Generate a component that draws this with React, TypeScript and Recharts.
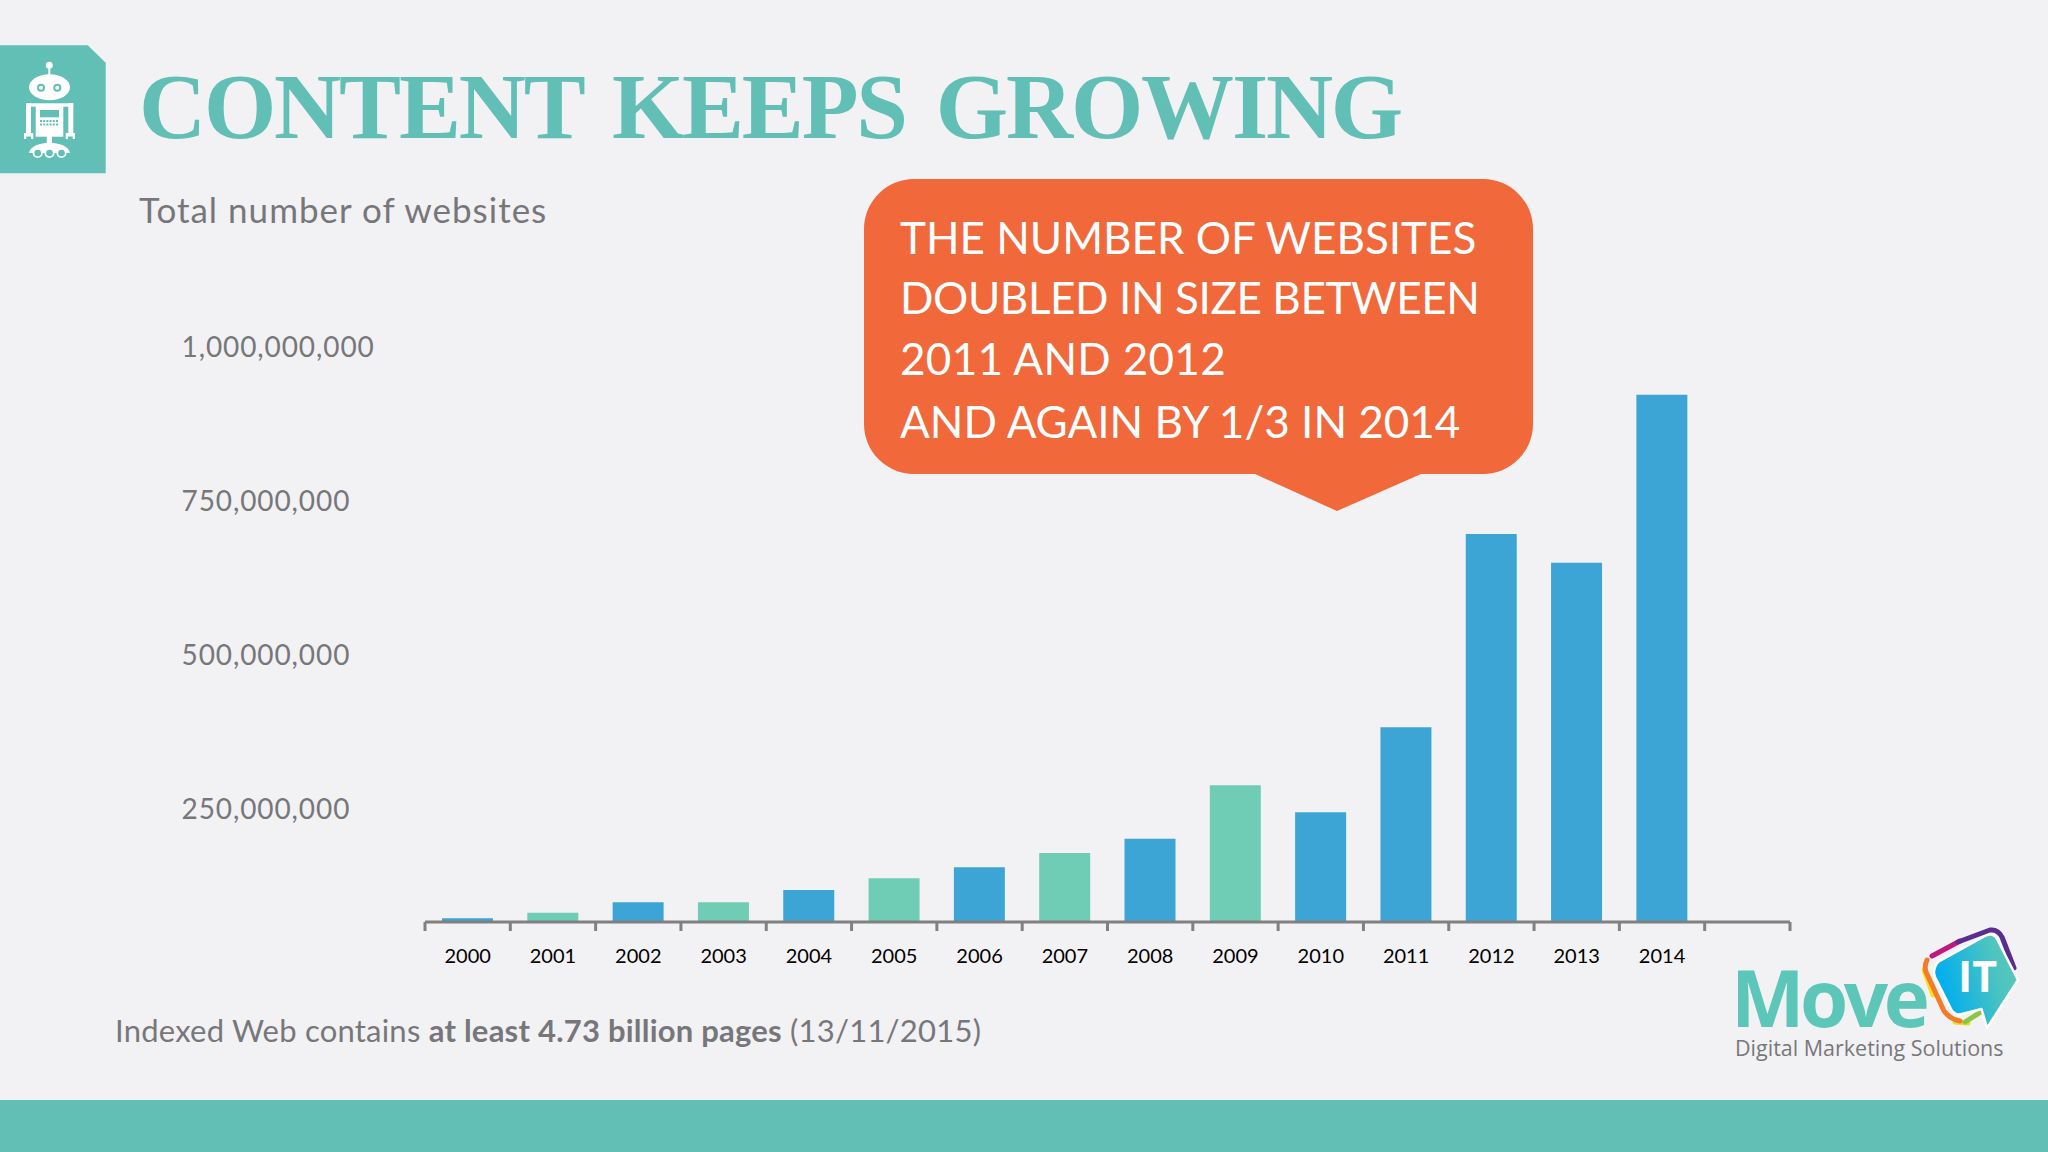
import { BarChart, Bar, Cell, XAxis, YAxis } from 'recharts';

// Values (the axis does not start at zero)
const years = ['2000', '2001', '2002', '2003', '2004', '2005', '2006', '2007', '2008', '2009', '2010', '2011', '2012', '2013', '2014', ''];
const websites = [71, 80, 97, 97, 117, 136, 154, 177, 200, 287, 243, 381, 695, 648, 921, null];
const greenYears = ['2001', '2003', '2005', '2007', '2009'];
const yTicks = [250, 500, 750, 1000];
const yLabels = ['250,000,000', '500,000,000', '750,000,000', '1,000,000,000'];

const chartData = years.map((year, i) => ({ year, websites: websites[i] }));

const TEAL = '#62BFB5';
const BLUE = '#3DA5D5';
const GREEN = '#70CDB5';
const GREY = '#77777B';
const ORANGE = '#F1693B';
const BODY_FONT = 'Lato, "Open Sans", sans-serif';

const PLOT_LEFT = 425;
const PLOT_RIGHT = 1790;
const BAND = (PLOT_RIGHT - PLOT_LEFT) / years.length;

const XTick = ({ x, y, payload, index }: any) => {
  const left = x - BAND / 2;
  return (
    <g>
      <line x1={left} x2={left} y1={y - 8} y2={y + 1} stroke="#808080" strokeWidth={3} />
      {index === years.length - 1 && (
        <line x1={left + BAND} x2={left + BAND} y1={y - 8} y2={y + 1} stroke="#808080" strokeWidth={3} />
      )}
      <text x={x} y={y + 33} textAnchor="middle" fontFamily={BODY_FONT} fontSize={20} fill="#000">
        {payload.value}
      </text>
    </g>
  );
};

const YTick = ({ y, index }: any) => (
  <text x={181.5} y={y + 11} textAnchor="start" fontFamily={BODY_FONT} fontSize={28} letterSpacing={0.9} fill={GREY}>
    {yLabels[index]}
  </text>
);

const Robot = () => (
  <g>
    <polygon points="0,45.3 87.7,45.3 105.7,62.7 105.7,173.3 0,173.3" fill={TEAL} />
    <circle cx={49.3} cy={65.3} r={3.5} fill="#fff" />
    <rect x={48.3} y={65} width={2} height={11} fill="#fff" />
    <ellipse cx={49.5} cy={87.3} rx={20.5} ry={13} fill="#fff" />
    <circle cx={41} cy={87.7} r={3} fill="none" stroke={TEAL} strokeWidth={2} />
    <circle cx={57.3} cy={87.7} r={3} fill="none" stroke={TEAL} strokeWidth={2} />
    <rect x={26} y={103.3} width={47.3} height={3.4} fill="#fff" />
    <rect x={26} y={103.3} width={5} height={30} fill="#fff" />
    <rect x={68.3} y={103.3} width={5} height={30} fill="#fff" />
    <path d="M24 139 V133 H33.3 V139 H31 V136.5 H26.3 V139 Z" fill="#fff" />
    <path d="M65.7 139 V133 H75 V139 H72.7 V136.5 H68 V139 Z" fill="#fff" />
    <rect x={35.7} y={106} width={27.6} height={30.7} fill="#fff" />
    <rect x={40} y={110} width={19} height={7.3} fill={TEAL} />
    <line x1={40} x2={59} y1={121} y2={121} stroke={TEAL} strokeWidth={2} strokeDasharray="2 1.2" />
    <line x1={40} x2={59} y1={124.5} y2={124.5} stroke={TEAL} strokeWidth={2} strokeDasharray="2 1.2" />
    <rect x={46.7} y={136} width={5.3} height={8} fill="#fff" />
    <path d="M29 153 C30 146 40 142.7 49.5 142.7 C59 142.7 69 146 70 153 Z" fill="#fff" />
    <circle cx={37.7} cy={153} r={4.2} fill={TEAL} stroke="#fff" strokeWidth={1.8} />
    <circle cx={49.5} cy={153} r={4.2} fill={TEAL} stroke="#fff" strokeWidth={1.8} />
    <circle cx={61.5} cy={153} r={4.2} fill={TEAL} stroke="#fff" strokeWidth={1.8} />
  </g>
);

const Logo = () => (
  <g>
    <defs>
      <linearGradient id="badge" x1="0" x2="1" y1="0.3" y2="0">
        <stop offset="0%" stopColor="#00AEEF" />
        <stop offset="65%" stopColor="#4CC4C0" />
        <stop offset="100%" stopColor="#5FC8B4" />
      </linearGradient>
    </defs>
    <g fill="none" strokeWidth={5} strokeLinejoin="round" strokeLinecap="round">
      <path d="M1924 970 L1933 995" stroke="#F6E21C" />
      <path d="M1955 1022 L1968 1023" stroke="#E5DE2B" />
      <path d="M1965 1022 L1981 1012" stroke="#8CC63F" />
      <path d="M1927 960 Q1924 966 1926 972 L1944 1011 Q1950 1019 1960 1021" stroke="#F47B2A" />
      <path d="M1932 956 L1960 941" stroke="#C2187E" />
      <path d="M1958 942 L1990 930 Q1998 929 2002 937 L2014 968" stroke="#5B2D8E" />
    </g>
    <path
      d="M1938 962 L1985 936 Q1993 932 1997 939 L2018 980 L1987 1028 L1981.5 1009 L1962 1014 Q1955 1016 1951 1009 L1935 977 Q1932 970 1938 962 Z"
      fill="url(#badge)"
      stroke="#fff"
      strokeWidth={2.5}
      strokeLinejoin="round"
    />
    <text x={1958} y={992} fontFamily='"Open Sans", sans-serif' fontWeight={700} fontSize={43} fill="#fff">IT</text>
    <text x={1731} y={1027} fontFamily='"Open Sans", sans-serif' fontWeight={700} fontSize={78} letterSpacing={-4.5} fill="#5CC6B8">Move</text>
    <text x={1735} y={1056} fontFamily='"Open Sans", sans-serif' fontSize={21.5} fill={GREY}>Digital Marketing Solutions</text>
  </g>
);

const Slide = () => (
  <svg width={2048} height={1152} style={{ position: 'absolute', left: 0, top: 0 }}>
    <Robot />
    <text x={139} y={138} fontFamily='"Liberation Serif", serif' fontWeight={700} fontSize={93} letterSpacing={-2.2} wordSpacing={9} fill={TEAL}>
      CONTENT KEEPS GROWING
    </text>
    <text x={139} y={223} fontFamily={BODY_FONT} fontSize={35} letterSpacing={1} fill={GREY}>
      Total number of websites
    </text>
    <path d="M914 179 H1483 A50 50 0 0 1 1533 229 V424 A50 50 0 0 1 1483 474 H1421 L1337 511 L1255 474 H914 A50 50 0 0 1 864 424 V229 A50 50 0 0 1 914 179 Z" fill={ORANGE} />
    <g fontFamily={BODY_FONT} fontSize={44} fill="#fff">
      <text x={900} y={254}>THE NUMBER OF WEBSITES</text>
      <text x={900} y={314} letterSpacing={-0.4}>DOUBLED IN SIZE BETWEEN</text>
      <text x={900} y={375} letterSpacing={0.3}>2011 AND 2012</text>
      <text x={900} y={438}>AND AGAIN BY 1/3 IN 2014</text>
    </g>
    <text x={115} y={1042} fontFamily={BODY_FONT} fontSize={31} letterSpacing={0.22} fill={GREY}>
      Indexed Web contains <tspan fontWeight={700}>at least 4.73 billion pages</tspan> (13/11/2015)
    </text>
    <rect x={0} y={1100} width={2048} height={52} fill={TEAL} />
    <Logo />
  </svg>
);

export default function App() {
  return (
    <div style={{ position: 'absolute', left: 0, top: 0, width: 2048, height: 1152, background: '#F2F2F4', overflow: 'hidden' }}>
      <Slide />
      <div style={{ position: 'absolute', left: 0, top: 0 }}>
        <BarChart
          width={2048}
          height={1152}
          data={chartData}
          barCategoryGap={0}
          margin={{ top: 346, right: 258, bottom: 170, left: 125 }}
        >
          <XAxis
            dataKey="year"
            height={60}
            interval={0}
            axisLine={{ stroke: '#808080', strokeWidth: 3 }}
            tickLine={false}
            tick={<XTick />}
          />
          <YAxis
            width={300}
            domain={[65, 1000]}
            ticks={yTicks}
            axisLine={false}
            tickLine={false}
            tick={<YTick />}
          />
          <Bar dataKey="websites" barSize={51} isAnimationActive={false}>
            {chartData.map((d) => (
              <Cell key={d.year} fill={greenYears.includes(d.year) ? GREEN : BLUE} />
            ))}
          </Bar>
        </BarChart>
      </div>
    </div>
  );
}
